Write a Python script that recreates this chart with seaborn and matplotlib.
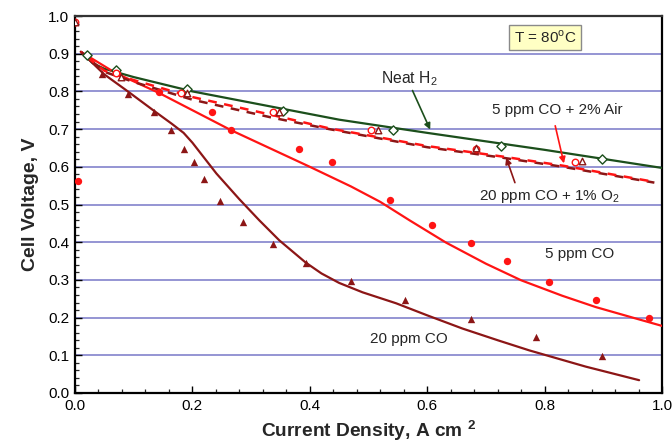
import numpy as np
import pandas as pd
import seaborn as sns
import matplotlib
matplotlib.use("Agg")
import matplotlib.pyplot as plt
from matplotlib.ticker import MultipleLocator

# ---------------- data ----------------
# Neat H2
h2_x = [0.02, 0.07, 0.19, 0.355, 0.541, 0.726, 0.898]
h2_y = [0.896, 0.858, 0.806, 0.748, 0.697, 0.656, 0.620]
h2_fit_x = [0.01, 0.03, 0.05, 0.10, 0.20, 0.30, 0.45, 0.60, 0.80, 1.00]
h2_fit_y = [0.905, 0.875, 0.860, 0.838, 0.800, 0.770, 0.725, 0.690, 0.645, 0.597]

# 5 ppm CO + 2% Air (open circles)
air_x = [0.0, 0.07, 0.18, 0.337, 0.505, 0.683, 0.852]
air_y = [0.984, 0.849, 0.796, 0.746, 0.697, 0.647, 0.613]
air_fit_x = [0.01, 0.05, 0.10, 0.20, 0.337, 0.433, 0.60, 0.729, 0.831, 0.987]
air_fit_y = [0.905, 0.855, 0.830, 0.785, 0.737, 0.702, 0.655, 0.627, 0.603, 0.560]

# 20 ppm CO + 1% O2 (open triangles)
o2_x = [0.0, 0.079, 0.191, 0.348, 0.517, 0.683, 0.864]
o2_y = [0.984, 0.839, 0.795, 0.746, 0.697, 0.649, 0.616]
o2_fit_x = [0.01, 0.05, 0.10, 0.20, 0.337, 0.433, 0.60, 0.729, 0.831, 0.987]
o2_fit_y = [0.905, 0.852, 0.825, 0.778, 0.730, 0.700, 0.652, 0.624, 0.600, 0.558]

# 5 ppm CO (filled circles)
co5_x = [0.005, 0.072, 0.143, 0.233, 0.266, 0.381, 0.437, 0.537, 0.608, 0.675,
         0.736, 0.807, 0.887, 0.978]
co5_y = [0.562, 0.848, 0.799, 0.746, 0.697, 0.647, 0.613, 0.512, 0.445, 0.399,
         0.349, 0.294, 0.248, 0.198]
co5_fit_x = [0.01, 0.07, 0.143, 0.266, 0.40, 0.47, 0.52, 0.57, 0.632, 0.70, 0.76,
             0.83, 0.887, 0.95, 1.0]
co5_fit_y = [0.905, 0.848, 0.796, 0.697, 0.600, 0.548, 0.507, 0.458, 0.399, 0.343,
             0.299, 0.258, 0.228, 0.200, 0.178]

# 20 ppm CO (filled triangles)
co20_x = [0.046, 0.091, 0.135, 0.164, 0.186, 0.203, 0.22, 0.247, 0.286, 0.337,
          0.393, 0.471, 0.562, 0.674, 0.785, 0.898]
co20_y = [0.846, 0.792, 0.746, 0.697, 0.647, 0.612, 0.567, 0.509, 0.454, 0.395,
          0.346, 0.297, 0.248, 0.197, 0.149, 0.098]
co20_fit_x = [0.01, 0.05, 0.09, 0.135, 0.165, 0.185, 0.20, 0.22, 0.241, 0.28, 0.314,
              0.348, 0.393, 0.42, 0.45, 0.49, 0.547, 0.60, 0.66, 0.72, 0.774, 0.87, 0.961]
co20_fit_y = [0.905, 0.845, 0.800, 0.748, 0.714, 0.690, 0.664, 0.624, 0.582, 0.514, 0.458,
              0.405, 0.346, 0.317, 0.292, 0.267, 0.238, 0.206, 0.171, 0.140, 0.113, 0.070, 0.034]

x_ticks = [0.0, 0.2, 0.4, 0.6, 0.8, 1.0]
y_ticks = [0.0, 0.1, 0.2, 0.3, 0.4, 0.5, 0.6, 0.7, 0.8, 0.9, 1.0]

# ---------------- style ----------------
sns.set_theme(style="white")
plt.rcParams["font.family"] = ["Liberation Sans", "DejaVu Sans"]
plt.rcParams["mathtext.fontset"] = "custom"
plt.rcParams["mathtext.rm"] = "Liberation Sans"
plt.rcParams["mathtext.bf"] = "Liberation Sans:bold"

GREEN = "#1c4f1c"
RED = "#ff1414"
DRED = "#8c1616"
GRID = "#8c8cd0"

fig = plt.figure(figsize=(6.72, 4.43), dpi=100)
ax = fig.add_axes([75 / 672, 50 / 443, 587 / 672, 377 / 443])

# lines
sns.lineplot(x=h2_fit_x, y=h2_fit_y, ax=ax, color=GREEN, lw=1.6, sort=False, zorder=3)
sns.lineplot(x=co5_fit_x, y=co5_fit_y, ax=ax, color=RED, lw=1.6, sort=False, zorder=3)
sns.lineplot(x=co20_fit_x, y=co20_fit_y, ax=ax, color=DRED, lw=1.6, sort=False, zorder=3)
sns.lineplot(x=o2_fit_x, y=o2_fit_y, ax=ax, color=DRED, lw=1.8, sort=False, zorder=3,
             dashes=False, linestyle=(0, (3.5, 3.0)))
sns.lineplot(x=air_fit_x, y=air_fit_y, ax=ax, color=RED, lw=1.8, sort=False, zorder=3,
             dashes=False, linestyle=(3.2, (3.5, 3.0)))

# markers
sns.scatterplot(x=co5_x, y=co5_y, ax=ax, color=RED, marker="o", s=28, linewidth=0, zorder=4)
sns.scatterplot(x=co20_x, y=co20_y, ax=ax, color=DRED, marker="^", s=28, linewidth=0, zorder=4)
sns.scatterplot(x=h2_x, y=h2_y, ax=ax, color="white", edgecolor=GREEN, marker="D", s=22,
                linewidth=1.0, zorder=5)
sns.scatterplot(x=air_x, y=air_y, ax=ax, color="white", edgecolor=RED, marker="o", s=22,
                linewidth=1.0, zorder=5)
sns.scatterplot(x=o2_x, y=o2_y, ax=ax, color="white", edgecolor=DRED, marker="^", s=22,
                linewidth=1.0, zorder=5)

# axes
ax.set_xlim(0, 1.0)
ax.set_ylim(0, 1.0)
ax.set_xticks(x_ticks)
ax.set_yticks(y_ticks)
ax.set_xticklabels([f"{v:.1f}" for v in x_ticks])
ax.set_yticklabels([f"{v:.1f}" for v in y_ticks])
ax.xaxis.set_minor_locator(MultipleLocator(0.04))
ax.yaxis.set_minor_locator(MultipleLocator(0.02))
ax.tick_params(axis="both", which="major", direction="in", length=5, width=1.0,
               labelsize=11, colors="black", bottom=True, left=True, top=False, right=False,
               pad=4)
ax.tick_params(axis="both", which="minor", direction="in", length=3, width=0.9,
               bottom=True, left=True, top=False, right=False)
ax.yaxis.grid(True, color=GRID, lw=1.3, zorder=0)
ax.xaxis.grid(False)
ax.set_axisbelow(True)
for side in ["left", "bottom", "right"]:
    ax.spines[side].set_color("black")
    ax.spines[side].set_linewidth(1.6)
ax.spines["top"].set_color("#333333")
ax.spines["top"].set_linewidth(1.6)

ax.set_xlabel("Current Density, A cm $^{\\mathbf{2}}$", fontsize=13.8, fontweight="bold",
              labelpad=4)
ax.set_ylabel("Cell Voltage, V", fontsize=14, fontweight="bold", labelpad=7)

# annotations
ax.text(0.801, 0.943, "T = 80$^{\\mathrm{o}}$C", fontsize=11, ha="center", va="center",
        bbox=dict(boxstyle="square,pad=0.3", fc="#ffffc4", ec="#8a8a8a", lw=1.0), zorder=6)

ax.text(0.57, 0.835, "Neat H$_2$", fontsize=11.3, ha="center", va="center")
ax.annotate("", xy=(0.607, 0.692), xytext=(0.573, 0.809),
            arrowprops=dict(arrowstyle="-|>,head_length=0.3,head_width=0.15", color=GREEN, lw=1.2))

ax.text(0.822, 0.750, "5 ppm CO + 2% Air", fontsize=11, ha="center", va="center")
ax.annotate("", xy=(0.834, 0.602), xytext=(0.817, 0.716),
            arrowprops=dict(arrowstyle="-|>,head_length=0.3,head_width=0.15", color=RED, lw=1.2))

ax.text(0.808, 0.520, "20 ppm CO + 1% O$_2$", fontsize=11, ha="center", va="center")
ax.annotate("", xy=(0.733, 0.631), xytext=(0.751, 0.551),
            arrowprops=dict(arrowstyle="-|>,head_length=0.3,head_width=0.15", color=DRED, lw=1.2))

ax.text(0.859, 0.368, "5 ppm CO", fontsize=11, ha="center", va="center")
ax.text(0.568, 0.142, "20 ppm CO", fontsize=11, ha="center", va="center")

fig.savefig("out.png", dpi=100)
